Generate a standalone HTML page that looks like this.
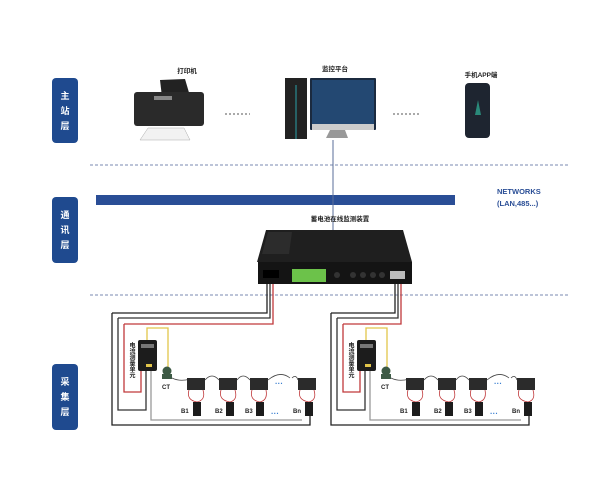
<!DOCTYPE html>
<html><head><meta charset="utf-8"><style>
html,body{margin:0;padding:0;background:#fff;}
svg{display:block;font-family:"Liberation Sans","Noto Sans CJK SC",sans-serif;}
</style></head><body>
<svg width="600" height="494" viewBox="0 0 600 494" xmlns="http://www.w3.org/2000/svg">
<defs>
<g id="grp">
  <path d="M112 313 V425 H310 V412" fill="none" stroke="#222" stroke-width="1.3"/>
  <path d="M118 318 V410 H146 V370" fill="none" stroke="#333" stroke-width="1.3"/>
  <path d="M124 324 V392 H141 V370" fill="none" stroke="#c0393b" stroke-width="1.3"/>
  <path d="M147 340 V328 H168 V367" fill="none" stroke="#e2c54a" stroke-width="1.3"/>
  <path d="M151 370 V420 H302" fill="none" stroke="#999" stroke-width="1.3"/>
  <rect x="138" y="340" width="19" height="31" rx="2" fill="#1c1c1c"/>
  <rect x="141" y="344" width="13" height="4" fill="#777"/>
  <rect x="146" y="364" width="6" height="3" fill="#e2c54a"/>
  <text x="131" y="342" font-size="6" font-weight="bold" fill="#222" style="writing-mode:tb">电流测量单元</text>
  <circle cx="167" cy="371" r="4.5" fill="#3d5a45"/>
  <rect x="162" y="374" width="10" height="5" fill="#3d5a45"/>
  <text x="162" y="389" font-size="6" font-weight="bold" fill="#222">CT</text>
  <path d="M172 378 Q180 382 190 379" fill="none" stroke="#444" stroke-width="0.8"/>
  <g fill="#2b2b2b">
    <rect x="187" y="378" width="18" height="12"/><rect x="219" y="378" width="18" height="12"/>
    <rect x="250" y="378" width="18" height="12"/><rect x="298" y="378" width="18" height="12"/>
  </g>
  <path d="M205 380 Q212 372 219 380 M237 380 Q243 372 250 380 M268 380 Q280 370 290 378 M292 378 Q296 374 298 380" fill="none" stroke="#444" stroke-width="0.8"/>
  <path d="M189 390 Q186 400 197 402 Q206 400 203 390 M221 390 Q218 400 230 402 Q238 400 235 390 M252 390 Q249 400 260 402 Q268 400 266 390 M300 390 Q297 400 309 402 Q317 400 314 390" fill="none" stroke="#c0393b" stroke-width="0.8"/>
  <text x="275" y="386" font-size="8" fill="#3a7fd0" font-weight="bold">···</text>
  <g fill="#1c1c1c">
    <rect x="193" y="402" width="8" height="14"/><rect x="226" y="402" width="8" height="14"/>
    <rect x="256" y="402" width="8" height="14"/><rect x="305" y="402" width="8" height="14"/>
  </g>
  <g font-size="6" font-weight="bold" fill="#222">
    <text x="181" y="413">B1</text><text x="215" y="413">B2</text><text x="245" y="413">B3</text><text x="293" y="413">Bn</text>
  </g>
  <text x="271" y="416" font-size="8" fill="#3a7fd0" font-weight="bold">···</text>
</g>
</defs>

<g fill="#1f4a8f">
  <rect x="52" y="78" width="26" height="65" rx="4"/>
  <rect x="52" y="197" width="26" height="66" rx="4"/>
  <rect x="52" y="364" width="26" height="66" rx="4"/>
</g>
<g fill="#fff" font-size="9" font-weight="bold" text-anchor="middle">
  <text x="65" y="99">主</text><text x="65" y="114">站</text><text x="65" y="129">层</text>
  <text x="65" y="218">通</text><text x="65" y="233">讯</text><text x="65" y="248">层</text>
  <text x="65" y="385">采</text><text x="65" y="400">集</text><text x="65" y="415">层</text>
</g>

<line x1="90" y1="165" x2="570" y2="165" stroke="#7a8ab0" stroke-width="1" stroke-dasharray="3,2"/>
<line x1="90" y1="295" x2="570" y2="295" stroke="#7a8ab0" stroke-width="1" stroke-dasharray="3,2"/>

<rect x="96" y="195" width="359" height="10" fill="#2a4e96"/>
<text x="497" y="194" font-size="7.5" font-weight="bold" fill="#2a4e96">NETWORKS</text>
<text x="497" y="206" font-size="7.5" font-weight="bold" fill="#2a4e96">(LAN,485...)</text>
<line x1="333" y1="140" x2="333" y2="232" stroke="#5a6d99" stroke-width="1"/>

<text x="187" y="73" font-size="6.5" font-weight="bold" text-anchor="middle" fill="#222">打印机</text>
<polygon points="160,80 185,79 190,96 162,97" fill="#222"/>
<rect x="134" y="92" width="70" height="34" rx="3" fill="#2a2a2a"/>
<rect x="154" y="96" width="18" height="4" fill="#888"/>
<polygon points="148,128 184,128 190,140 140,140" fill="#f2f2f2" stroke="#aaa" stroke-width="0.5"/>
<line x1="225" y1="114" x2="250" y2="114" stroke="#555" stroke-dasharray="2,2"/>

<text x="335" y="71" font-size="6.5" font-weight="bold" text-anchor="middle" fill="#222">监控平台</text>
<rect x="285" y="78" width="22" height="61" fill="#222"/>
<line x1="296" y1="85" x2="296" y2="139" stroke="#2aa0a8" stroke-width="1"/>
<rect x="310" y="78" width="66" height="52" rx="1" fill="#1b2a3f"/>
<rect x="312" y="80" width="62" height="44" fill="#234872"/>
<rect x="312" y="124" width="62" height="6" fill="#ccc"/>
<polygon points="330,130 345,130 348,138 326,138" fill="#999"/>
<line x1="393" y1="114" x2="420" y2="114" stroke="#555" stroke-dasharray="2,2"/>

<text x="481" y="77" font-size="6.5" font-weight="bold" text-anchor="middle" fill="#222">手机APP端</text>
<rect x="465" y="83" width="25" height="55" rx="4" fill="#1e2530"/>
<polygon points="475,115 478,100 481,115" fill="#2a8a7a"/>

<text x="340" y="221" font-size="6.5" font-weight="bold" text-anchor="middle" fill="#222">蓄电池在线监测装置</text>
<polygon points="266,230 403,230 412,262 257,262" fill="#1f1f1f"/>
<polygon points="268,232 292,232 289,254 262,254" fill="#2c2c2c"/>
<rect x="258" y="262" width="154" height="22" fill="#141414"/>
<rect x="263" y="270" width="16" height="8" fill="#000"/>
<rect x="292" y="269" width="34" height="13" fill="#6cc24a"/>
<g fill="#333"><circle cx="337" cy="275" r="3"/><circle cx="353" cy="275" r="3"/><circle cx="363" cy="275" r="3"/><circle cx="373" cy="275" r="3"/><circle cx="382" cy="275" r="3"/></g>
<rect x="390" y="271" width="15" height="8" fill="#bbb"/>

<!-- device to group wires -->
<path d="M267 284 V313 H112" fill="none" stroke="#222" stroke-width="1.3"/>
<path d="M270 284 V318 H118" fill="none" stroke="#333" stroke-width="1.3"/>
<path d="M273 284 V324 H124" fill="none" stroke="#c0393b" stroke-width="1.3"/>
<path d="M395 284 V313 H331" fill="none" stroke="#222" stroke-width="1.3"/>
<path d="M398 284 V318 H337" fill="none" stroke="#333" stroke-width="1.3"/>
<path d="M401 284 V324 H343" fill="none" stroke="#c0393b" stroke-width="1.3"/>

<use href="#grp"/>
<g transform="translate(219,0)"><use href="#grp"/></g>
</svg>
</body></html>
